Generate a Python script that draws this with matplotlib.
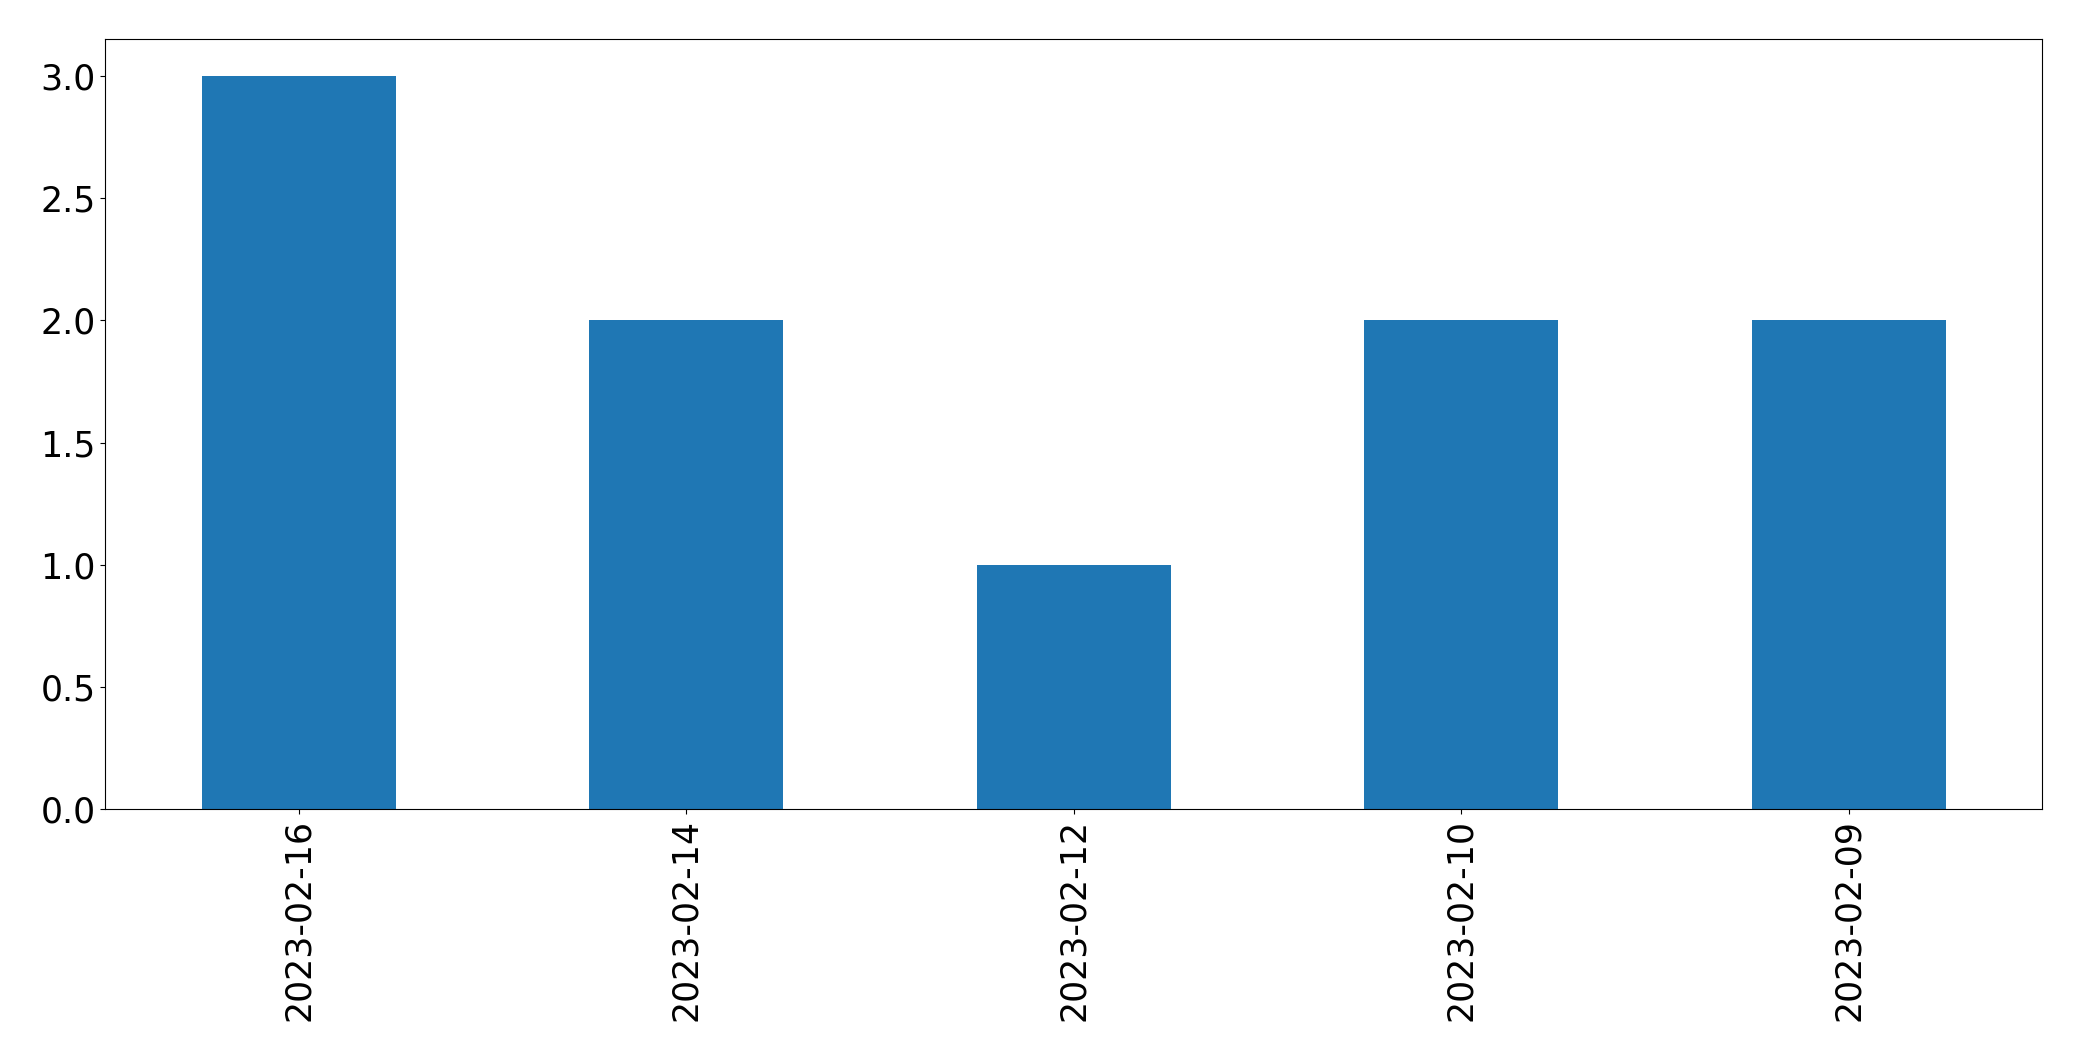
import numpy as np
from matplotlib import pyplot as plt

dates = ["2023-02-16", "2023-02-14", "2023-02-12", "2023-02-10", "2023-02-09"]
counts = [3, 2, 1, 2, 2]

fig = plt.figure(figsize=(20.82, 10.61), dpi=100)
ax = fig.add_axes([0.0505, 0.2375, 0.9305, 0.7253])

x = np.arange(len(dates))
ax.bar(x, counts, width=0.5, color="#1f77b4")
ax.set_xlim(-0.5, len(dates) - 0.5)
ax.set_ylim(0, 3.15)
ax.set_xticks(x)
ax.set_xticklabels(dates, rotation=90)
ax.tick_params(labelsize=25)

fig.savefig("out.png", dpi=100)
